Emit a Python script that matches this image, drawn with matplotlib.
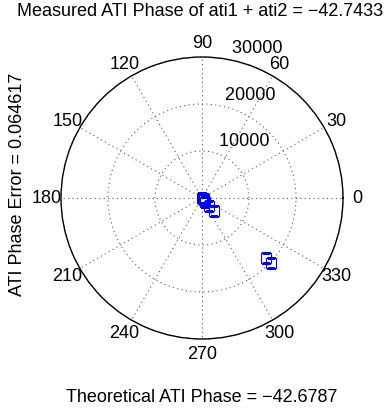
import matplotlib.pyplot as plt
import numpy as np

plt.rcParams['font.family'] = ['Liberation Sans', 'DejaVu Sans']

# measured samples (angle in degrees, magnitude)
theta_deg = [-42.0, -45.0, -40.0, -44.0, -38.0, -51.0, -46.5, -46.0, -43.2, -43.2]
radius = [100, 200, 300, 450, 600, 1020, 2250, 3760, 18670, 20210]

rmax = 30000
rings = [10000, 20000, 30000]
angle_labels = list(range(0, 360, 30))

title = 'Measured ATI Phase of ati1 + ati2 = \u221242.7433'
xlabel = 'Theoretical ATI Phase = \u221242.6787'
ylabel = 'ATI Phase Error = 0.064617'

fig = plt.figure(figsize=(3.87, 4.10), dpi=100)
ax = fig.add_axes([61 / 387, 70 / 410, 282 / 387, 282 / 410], projection='polar')

ax.set_rlim(0, rmax)
ax.set_rticks(rings)
ax.set_yticklabels([])
ax.set_xticks(np.deg2rad(angle_labels))
ax.set_xticklabels([])
ax.tick_params(length=0)
ax.grid(True, color='0.35', linestyle=(0, (1, 3)), linewidth=0.8)
ax.spines['polar'].set_linewidth(1.0)
ax.spines['polar'].set_color('black')

ax.plot(np.deg2rad(theta_deg), radius, 's', mfc='none', mec='blue',
        ms=6.5, mew=0.8, linestyle='none')

fs = 13
for a in angle_labels:
    ax.text(np.deg2rad(a), 1.1 * rmax, str(a), ha='center', va='center',
            fontsize=fs, clip_on=False)

for r in rings:
    ax.text(np.deg2rad(82), r + 500, '  ' + str(r), ha='left',
            va='bottom', fontsize=fs, clip_on=False)

fig.text(200 / 387, 1 - 12 / 410, title, ha='center', va='center', fontsize=fs)
fig.text(202 / 387, 1 - 398 / 410, xlabel, ha='center', va='center', fontsize=fs)
fig.text(18 / 387, 1 - 184 / 410, ylabel, ha='center', va='center',
         rotation=90, fontsize=fs)

fig.savefig('out.png', dpi=100)
